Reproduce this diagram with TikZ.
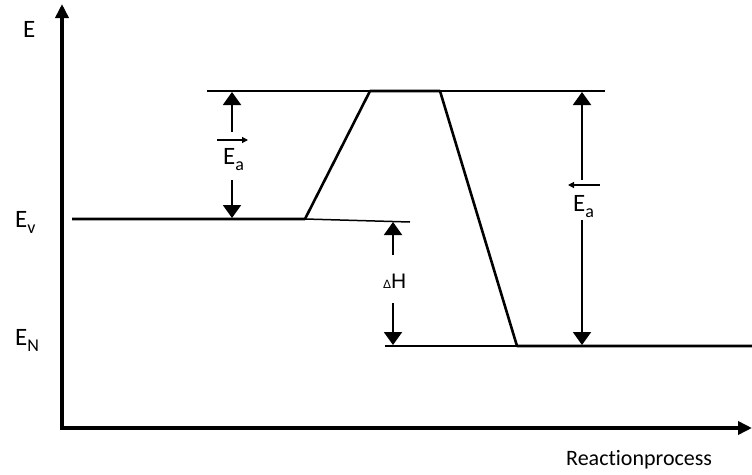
\documentclass[tikz,border=0pt]{standalone}
\usepackage{fontspec}
\setmainfont{Carlito}[Ligatures=NoCommon]
\newfontfamily\arialfont{Liberation Sans}
\usetikzlibrary{arrows.meta}

\newcommand{\lowsub}[1]{\raisebox{-0.26em}{\fontsize{18}{21}\selectfont #1}}

\tikzset{
  axis/.style={line width=4pt, line join=miter,
    {Triangle[width=13pt,length=14pt]}-{Triangle[width=13pt,length=14pt]}},
  level/.style={line width=2.6pt, line join=round},
  thinlevel/.style={line width=1.5pt},
  gap/.style={line width=2pt, -{Triangle[width=18pt,length=13pt]}},
  overarrow/.style={line width=1.2pt, -{Triangle[width=6pt,length=6pt]}},
  lbl/.style={font=\fontsize{25}{29}\selectfont, inner sep=0pt, anchor=base west}
}

\begin{document}
\begin{tikzpicture}[x=1pt,y=-1pt]
  \useasboundingbox (0,0) rectangle (752,474);

  % Axes
  \coordinate (ytop) at (62,4);
  \coordinate (origin) at (62,428);
  \coordinate (xend) at (752,428);
  \draw[axis] (ytop) -- (origin) -- (xend);

  % Axis labels
  \node[lbl] (E) at (23,37) {E};
  \node[lbl] (Ev) at (15,227) {E\lowsub{v}};
  \node[lbl] (EN) at (15,345) {E\lowsub{N}};
  \node[lbl, font=\fontsize{22}{26}\selectfont] (process) at (566,465) {Reactionprocess};

  % Energy profile
  \coordinate (r0) at (72,219);
  \coordinate (r1) at (305,219);
  \coordinate (t0) at (370,91);
  \coordinate (t1) at (440,91);
  \coordinate (p0) at (517,346);
  \coordinate (p1) at (752,346);
  \draw[level] (r0) -- (r1) -- (t0) -- (t1) -- (p0) -- (p1);

  % Guide lines
  \coordinate (rEnd) at (410,222);
  \coordinate (tStart) at (207,91);
  \coordinate (tEnd) at (605,91);
  \coordinate (pStart) at (385,346);
  \draw[thinlevel] (r1) -- (rEnd);
  \draw[thinlevel] (tStart) -- (tEnd);
  \draw[thinlevel] (pStart) -- (p0);

  % Forward activation energy
  \node[lbl] (EaF) at (223,164) {E\lowsub{a}};
  \coordinate (fUp) at (232,132);
  \coordinate (fTop) at (232,92);
  \coordinate (fDown) at (232,180);
  \coordinate (fBot) at (232,218);
  \draw[gap] (fUp) -- (fTop);
  \draw[gap] (fDown) -- (fBot);
  \draw[overarrow] ([xshift=-6pt,yshift=24pt]EaF.base west) -- ++(31,0);

  % Reaction enthalpy
  \node[lbl, font=\arialfont\fontsize{21}{24}\selectfont] (dH) at (383,288)
    {{\fontsize{12}{14}\selectfont Δ}H};
  \coordinate (hUp) at (393,255);
  \coordinate (hTop) at (393,222);
  \coordinate (hDown) at (393,303);
  \coordinate (hBot) at (393,345);
  \draw[gap] (hUp) -- (hTop);
  \draw[gap] (hDown) -- (hBot);

  % Reverse activation energy
  \node[lbl] (EaR) at (573,211) {E\lowsub{a}};
  \coordinate (bUp) at (582,180);
  \coordinate (bTop) at (582,92);
  \coordinate (bDown) at (582,220);
  \coordinate (bBot) at (582,345);
  \draw[gap] (bUp) -- (bTop);
  \draw[gap] (bDown) -- (bBot);
  \draw[overarrow] ([xshift=27pt,yshift=26pt]EaR.base west) -- ++(-32,0);
\end{tikzpicture}
\end{document}
